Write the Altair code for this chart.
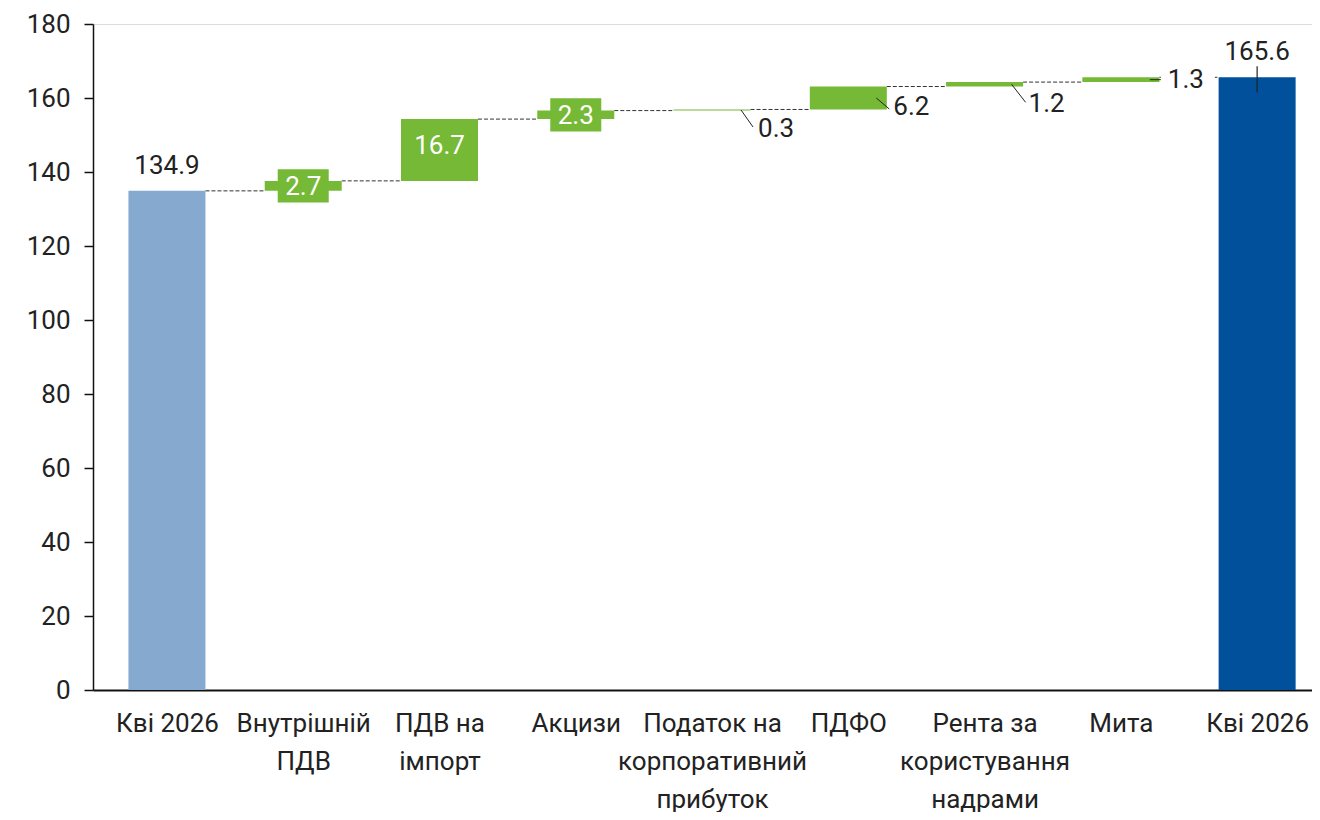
import json
import altair as alt
import pandas as pd

# ---------------- data ----------------
categories = ["Кві 2026", "Внутрішній ПДВ", "ПДВ на імпорт", "Акцизи",
              "Податок на корпоративний прибуток", "ПДФО",
              "Рента за користування надрами", "Мита", "Кві 2026"]
label_lines = [["Кві 2026"], ["Внутрішній", "ПДВ"], ["ПДВ на", "імпорт"], ["Акцизи"],
               ["Податок на", "корпоративний", "прибуток"], ["ПДФО"],
               ["Рента за", "користування", "надрами"], ["Мита"], ["Кві 2026"]]
values = [134.9, 2.7, 16.7, 2.3, 0.3, 6.2, 1.2, 1.3, 165.6]
kinds = ["start", "delta", "delta", "delta", "delta", "delta", "delta", "delta", "end"]
y_ticks = [0, 20, 40, 60, 80, 100, 120, 140, 160, 180]

# label placement style: "inbox" (green box), "inside" (white text), "above", "side"
label_style = ["above", "inbox", "inside", "inbox", "side", "side", "side", "side", "above"]
# side-label layout (pixels, relative to bar centre / middle): leader end dx, dy; text dx, dy
side_layout = {
    4: dict(lx1=29, lx2=41, ly2=17, tx=46, ty=19),
    5: dict(lx1=28, lx2=41, ly2=11, tx=45, ty=9),
    6: dict(lx1=27, lx2=41, ly2=18, tx=44, ty=20),
    7: dict(lx1=29, lx2=40, ly2=0, tx=47, ty=0),
}

# ---------------- derived table ----------------
rows = []
running = 0.0
for i, (c, v, k) in enumerate(zip(categories, values, kinds)):
    if k == "delta":
        base, top = running, running + v
        running = top
    else:
        base, top = 0.0, v
        running = v
    rows.append(dict(idx=i, cat=c, kind=k, value=v, base=round(base, 2),
                     top=round(top, 2), mid=round((base + top) / 2, 3),
                     txt=f"{v:.1f}", style=label_style[i]))
df = pd.DataFrame(rows)

conn = pd.DataFrame([dict(idx=i, nxt=i + 1, level=df.loc[i, "top"]) for i in range(len(df) - 1)])

FONT = "Roboto"
FS = 26
BAR_W = 77
HALF = BAR_W / 2
TXT = "#222222"

xscale = alt.Scale(domain=[-0.506, 8.366], nice=False, zero=False)
yscale = alt.Scale(domain=[0, 180], nice=False)

lines_js = json.dumps(label_lines, ensure_ascii=False)

x_axis = alt.Axis(values=list(range(9)), labelExpr=f"{lines_js}[datum.value]",
                  ticks=False, tickSize=0, grid=False, title=None,
                  domainColor="#111111", domainWidth=2,
                  labelFont=FONT, labelFontSize=FS, labelColor=TXT,
                  labelLineHeight=38, labelPadding=20, labelOverlap=False,
                  labelFlush=False, labelBound=False, labelAlign="center",
                  labelBaseline="top", labelLimit=400)
y_axis = alt.Axis(values=y_ticks, grid=False, title=None,
                  domainColor="#111111", domainWidth=1.5,
                  tickColor="#111111", tickSize=9, tickWidth=1.5,
                  labelFont=FONT, labelFontSize=FS, labelColor=TXT,
                  labelPadding=14)

base = alt.Chart(df)

bars = base.mark_bar(width=BAR_W).encode(
    x=alt.X("idx:Q", scale=xscale, axis=x_axis),
    y=alt.Y("base:Q", scale=yscale, axis=y_axis),
    y2="top:Q",
    color=alt.Color("kind:N", legend=None,
                    scale=alt.Scale(domain=["start", "delta", "end"],
                                    range=["#85A9CF", "#76B936", "#00509B"])),
)

connectors = alt.Chart(conn).mark_rule(
    xOffset=HALF, x2Offset=-HALF, color="#333333", strokeWidth=1, strokeDash=[4, 2]
).encode(
    x=alt.X("idx:Q", scale=xscale),
    x2="nxt:Q",
    y=alt.Y("level:Q", scale=yscale),
)

# green label boxes
box_path = "M-1,-0.65L1,-0.65L1,0.65L-1,0.65Z"
inbox = base.transform_filter("datum.style == 'inbox'")
boxes = inbox.mark_point(shape=box_path, size=51 * 51, filled=True, opacity=1,
                         color="#76B936", strokeWidth=0).encode(
    x=alt.X("idx:Q", scale=xscale), y=alt.Y("mid:Q", scale=yscale))
box_txt = inbox.mark_text(font=FONT, fontSize=FS, color="white", baseline="middle", dy=1).encode(
    x=alt.X("idx:Q", scale=xscale), y=alt.Y("mid:Q", scale=yscale), text="txt:N")

inside_txt = base.transform_filter("datum.style == 'inside'").mark_text(
    font=FONT, fontSize=FS, color="white", baseline="middle", dy=-4).encode(
    x=alt.X("idx:Q", scale=xscale), y=alt.Y("mid:Q", scale=yscale), text="txt:N")

above = base.transform_filter("datum.style == 'above'")
above_txt = above.mark_text(font=FONT, fontSize=FS, color=TXT, baseline="middle", dy=-25).encode(
    x=alt.X("idx:Q", scale=xscale), y=alt.Y("top:Q", scale=yscale), text="txt:N")
end_leader = base.transform_filter("datum.kind == 'end'").mark_rule(
    color="#222222", strokeWidth=1.2, yOffset=-11, y2Offset=15).encode(
    x=alt.X("idx:Q", scale=xscale), y=alt.Y("top:Q", scale=yscale), y2="top:Q")

layers = [connectors, bars, boxes, box_txt, inside_txt, above_txt, end_leader]

for i, s in side_layout.items():
    one = base.transform_filter(f"datum.idx == {i}")
    if s["ly2"] == 0:
        # white backing so the connector does not run through the label
        layers.append(one.mark_point(shape=box_path, size=54 * 54, filled=True, opacity=1,
                                     color="white", strokeWidth=0, xOffset=s["tx"] + 20).encode(
            x=alt.X("idx:Q", scale=xscale), y=alt.Y("mid:Q", scale=yscale)))
    layers.append(one.mark_rule(color="#222222", strokeWidth=1,
                                xOffset=s["lx1"], x2Offset=s["lx2"], y2Offset=s["ly2"]).encode(
        x=alt.X("idx:Q", scale=xscale), x2="idx:Q",
        y=alt.Y("mid:Q", scale=yscale), y2="mid:Q"))
    layers.append(one.mark_text(font=FONT, fontSize=FS, color=TXT, align="left",
                                baseline="middle", dx=s["tx"], dy=s["ty"]).encode(
        x=alt.X("idx:Q", scale=xscale), y=alt.Y("mid:Q", scale=yscale), text="txt:N"))

chart = alt.layer(*layers).properties(
    width=1219, height=666,
    autosize=alt.AutoSizeParams(type="none"),
    padding={"left": 85, "top": 16, "right": 0, "bottom": 122},
).configure_view(stroke=None).configure(background="white")

chart.save("out.html", embed_options={"renderer": "svg", "actions": False})
